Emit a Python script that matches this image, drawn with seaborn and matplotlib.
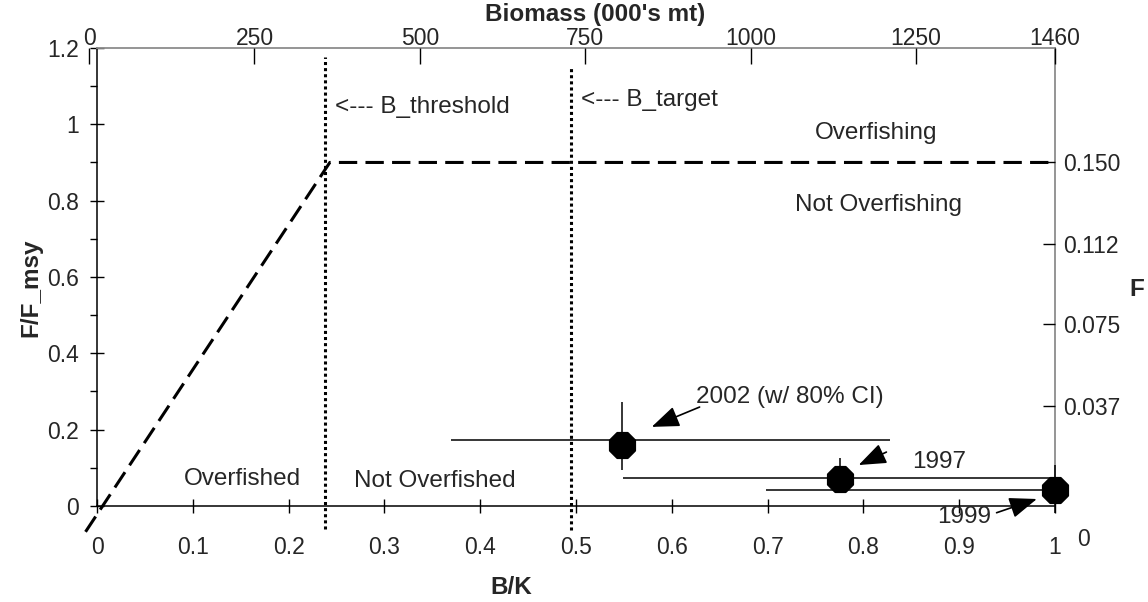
import matplotlib
matplotlib.use("Agg")
import matplotlib.pyplot as plt
import seaborn as sns
import pandas as pd

# ---------------- data ----------------
years = ["2002", "1997", "1999"]
bk = [0.548, 0.776, 1.0]              # B/K point estimates
ffmsy = [0.160, 0.071, 0.042]         # F/F_msy point estimates
bk_lo = [0.37, 0.549, 0.698]          # horizontal CI lower
bk_hi = [0.828, 1.0, 1.0]             # horizontal CI upper
bk_ci_level = [0.172, 0.073, 0.042]   # y-level of horizontal CI line
f_lo = [0.094, 0.034, -0.018]         # vertical CI lower
f_hi = [0.272, 0.126, 0.107]          # vertical CI upper

rule_bk = [-0.012, 0.243, 1.0]        # control rule
rule_f = [-0.068, 0.90, 0.90]

b_threshold = 0.238
b_target = 0.495

bk_ticks = [0, 0.1, 0.2, 0.3, 0.4, 0.5, 0.6, 0.7, 0.8, 0.9, 1.0]
bk_ticklabels = ["0", "0.1", "0.2", "0.3", "0.4", "0.5", "0.6", "0.7", "0.8", "0.9", "1"]
ff_ticks = [0, 0.2, 0.4, 0.6, 0.8, 1.0, 1.2]
ff_ticklabels = ["0", "0.2", "0.4", "0.6", "0.8", "1", "1.2"]
ff_minor = [0.1, 0.3, 0.5, 0.7, 0.9, 1.1]
biomass_ticks = [0, 250, 500, 750, 1000, 1250, 1460]
biomass_ticklabels = ["0", "250", "500", "750", "1000", "1250", "1460"]
f_ticks = [0.037, 0.075, 0.112, 0.150]
f_ticklabels = ["0.037", "0.075", "0.112", "0.150"]

# ---------------- style ----------------
sns.set_style("white")
plt.rcParams["font.family"] = ["Liberation Sans", "DejaVu Sans"]
TICK_FS = 16.5
TXT_FS = 17.5

fig = plt.figure(figsize=(11.48, 6.02), dpi=100)
ax = fig.add_axes([0.0720, 0.0963, 0.847, 0.824])
ax.set_xlim(-0.015, 1.0)
ax.set_ylim(-0.1, 1.2)

# spines
for s in ["left", "bottom"]:
    ax.spines[s].set_color("black")
    ax.spines[s].set_linewidth(1.1)
ax.spines["left"].set_position(("data", 0))
ax.spines["bottom"].set_position(("data", 0))
ax.spines["left"].set_bounds(0, 1.2)
ax.spines["bottom"].set_bounds(0, 1.0)
ax.spines["top"].set_color("#8c8c8c")
ax.spines["top"].set_linewidth(1.3)
ax.spines["top"].set_bounds(0, 1.0)
ax.spines["right"].set_color("#8c8c8c")
ax.spines["right"].set_linewidth(1.3)
ax.spines["right"].set_bounds(0.053, 1.2)

ax.set_xticks(bk_ticks)
ax.set_xticklabels(bk_ticklabels)
ax.set_yticks(ff_ticks)
ax.set_yticklabels(ff_ticklabels)
ax.set_yticks(ff_minor, minor=True)
ax.tick_params(axis="x", bottom=True, top=False, direction="inout", length=10,
               width=1, pad=17, labelsize=TICK_FS, color="black")
ax.tick_params(axis="y", which="major", left=True, right=False, direction="inout",
               length=10, width=1, pad=8, labelsize=TICK_FS, color="black")
ax.tick_params(axis="y", which="minor", left=True, right=False, direction="out",
               length=5, width=1, color="black")

# twin axes for biomass (top) and F (right)
ax3 = ax.twiny()
ax3.set_xlim(-9.7, 1460)
ax3.set_xticks(biomass_ticks)
ax3.set_xticklabels(biomass_ticklabels)
ax3.tick_params(axis="x", top=True, bottom=False, direction="in", length=11.5,
                width=1, pad=-1.5, labelsize=TICK_FS, color="black")

F_at_bottom = 0.15 + (-0.1 - 0.9) / 5.646
F_at_top = 0.15 + (1.2 - 0.9) / 5.646
ax2 = ax.twinx()
ax2.set_ylim(F_at_bottom, F_at_top)
ax2.set_yticks(f_ticks)
ax2.set_yticklabels(f_ticklabels)
ax2.tick_params(axis="y", right=True, left=False, direction="in", length=8.5,
                width=1, pad=6, labelsize=TICK_FS, color="black")
for a in (ax2, ax3):
    for s in a.spines.values():
        s.set_visible(False)

# ---------------- marks ----------------
ax.plot(rule_bk, rule_f, color="black", lw=2.2, linestyle=(0, (6, 2.7)), clip_on=False, zorder=3)
ax.plot([b_threshold, b_threshold], [-0.06, 1.176], color="black", lw=2.2,
        linestyle=(0, (1, 1)), zorder=3)
ax.plot([b_target, b_target], [-0.063, 1.15], color="black", lw=2.2,
        linestyle=(0, (1, 1)), zorder=3)

ax.hlines(bk_ci_level, bk_lo, bk_hi, color="black", lw=1.1, zorder=4, clip_on=False)
ax.vlines(bk, f_lo, f_hi, color="black", lw=1.1, zorder=4, clip_on=False)

pts = pd.DataFrame({"year": years, "bk": bk, "ffmsy": ffmsy})
sns.scatterplot(data=pts, x="bk", y="ffmsy", marker="8", s=380, color="black",
                edgecolor="black", ax=ax, zorder=5, clip_on=False, legend=False)
ax.set_xlabel("")
ax.set_ylabel("")

# ---------------- text ----------------
ax.text(0.813, 0.977, "Overfishing", fontsize=TXT_FS, ha="center", va="center")
ax.text(0.816, 0.789, "Not Overfishing", fontsize=TXT_FS, ha="center", va="center")
ax.text(0.152, 0.071, "Overfished", fontsize=TXT_FS, ha="center", va="center")
ax.text(0.353, 0.066, "Not Overfished", fontsize=TXT_FS, ha="center", va="center")
ax.text(0.248, 1.045, "<--- B_threshold", fontsize=TXT_FS, ha="left", va="center")
ax.text(0.505, 1.064, "<--- B_target", fontsize=TXT_FS, ha="left", va="center")

ax.text(0.723, 0.286, "2002 (w/ 80% CI)", fontsize=TXT_FS, ha="center", va="center")
ax.text(0.851, 0.115, "1997", fontsize=TXT_FS, ha="left", va="center")
ax.text(0.905, -0.029, "1999", fontsize=TXT_FS, ha="center", va="center")

arrow = dict(arrowstyle="-|>,head_length=1.0,head_width=0.38", mutation_scale=17,
             color="black", lw=1.2, shrinkA=0, shrinkB=0)
ax.annotate("", xy=(0.579, 0.207), xytext=(0.629, 0.259), arrowprops=arrow, zorder=6)
ax.annotate("", xy=(0.795, 0.107), xytext=(0.824, 0.141), arrowprops=arrow, zorder=6)
ax.annotate("", xy=(0.981, 0.018), xytext=(0.939, -0.018), arrowprops=arrow,
            zorder=6, annotation_clip=False)

# axis titles
fig.text(31 / 1148, 1 - 288 / 602, "F/F_msy", rotation=90, fontsize=TXT_FS,
         fontweight="bold", ha="center", va="center")
fig.text(511 / 1148, 1 - 587 / 602, "B/K", fontsize=TXT_FS, fontweight="bold",
         ha="center", va="center")
fig.text(595 / 1148, 1 - 15 / 602, "Biomass (000's mt)", fontsize=TXT_FS,
         fontweight="bold", ha="center", va="center")
fig.text(1137 / 1148, 1 - 290 / 602, "F", fontsize=TXT_FS, fontweight="bold",
         ha="center", va="center")
fig.text(1083 / 1148, 1 - 540 / 602, "0", fontsize=TICK_FS, ha="center", va="center")

fig.savefig("out.png", dpi=100)
